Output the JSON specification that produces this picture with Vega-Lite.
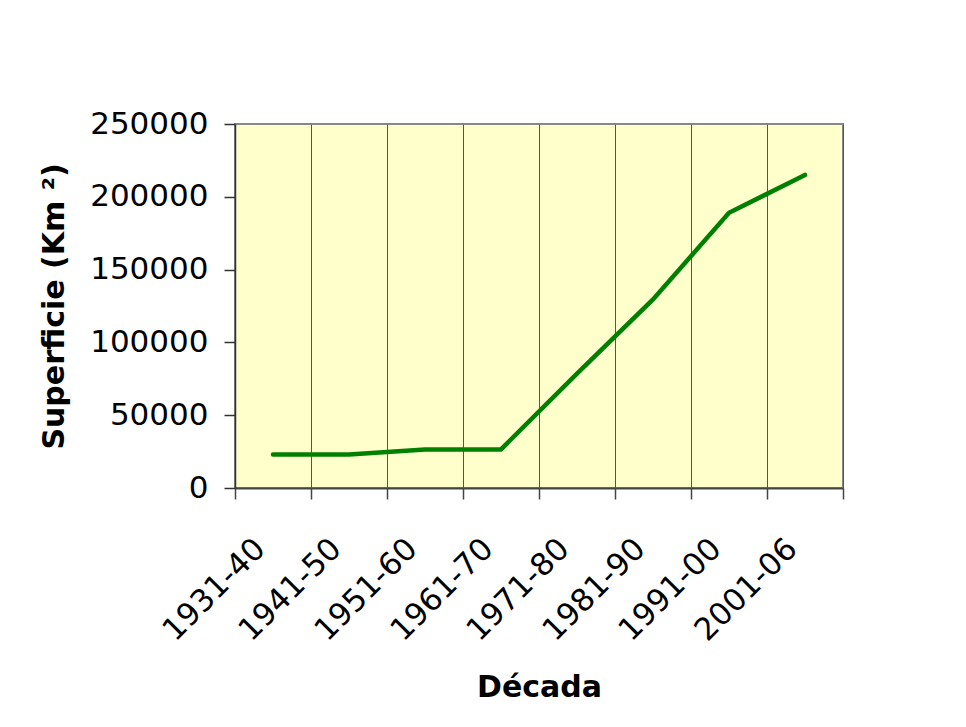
{
  "$schema": "https://vega.github.io/schema/vega-lite/v6.json",
  "width": 608,
  "height": 364,
  "autosize": {"type": "none"},
  "padding": {"left": 235, "top": 124, "right": 123, "bottom": 239},
  "background": "white",
  "config": {
    "view": {"fill": "#FFFFCC", "stroke": "#888888", "strokeWidth": 2},
    "font": "DejaVu Sans"
  },
  "data": {
    "values": [
      {"decada": "1931-40", "superficie": 23000},
      {"decada": "1941-50", "superficie": 23000},
      {"decada": "1951-60", "superficie": 26500},
      {"decada": "1961-70", "superficie": 26500},
      {"decada": "1971-80", "superficie": 78500},
      {"decada": "1981-90", "superficie": 129500},
      {"decada": "1991-00", "superficie": 189000},
      {"decada": "2001-06", "superficie": 215000}
    ]
  },
  "mark": {"type": "line", "color": "#008000", "strokeWidth": 4.5, "strokeCap": "round", "strokeJoin": "miter"},
  "encoding": {
    "x": {
      "field": "decada",
      "type": "ordinal",
      "sort": null,
      "bandPosition": 0.5,
      "scale": {"type": "band", "paddingInner": 0, "paddingOuter": 0},
      "axis": {
        "title": "Década",
        "tickBand": "extent",
        "grid": true,
        "gridColor": "#555555",
        "gridWidth": 1,
        "gridOpacity": 1,
        "domainColor": "#444444",
        "domainWidth": 2,
        "tickColor": "#444444",
        "tickSize": 11,
        "tickWidth": 1.5,
        "labelAngle": -45,
        "labelAlign": "right",
        "labelBaseline": "middle",
        "labelFont": "DejaVu Sans",
        "labelFontSize": 31,
        "labelColor": "black",
        "labelPadding": 45,
        "labelOffset": -13,
        "titleFont": "DejaVu Sans",
        "titleFontSize": 30,
        "titleFontWeight": "bold",
        "titleColor": "black",
        "titlePadding": 26
      }
    },
    "y": {
      "field": "superficie",
      "type": "quantitative",
      "scale": {"domain": [0, 250000]},
      "axis": {
        "title": "Superficie (Km ²)",
        "grid": false,
        "values": [0, 50000, 100000, 150000, 200000, 250000],
        "format": "d",
        "domainColor": "#333333",
        "domainWidth": 1.5,
        "tickColor": "#333333",
        "tickWidth": 1.5,
        "tickSize": 11,
        "labelFont": "DejaVu Sans",
        "labelFontSize": 31,
        "labelPadding": 16,
        "labelColor": "black",
        "titleFont": "DejaVu Sans",
        "titleFontSize": 30,
        "titleFontWeight": "bold",
        "titleColor": "black",
        "titlePadding": 20
      }
    }
  }
}
